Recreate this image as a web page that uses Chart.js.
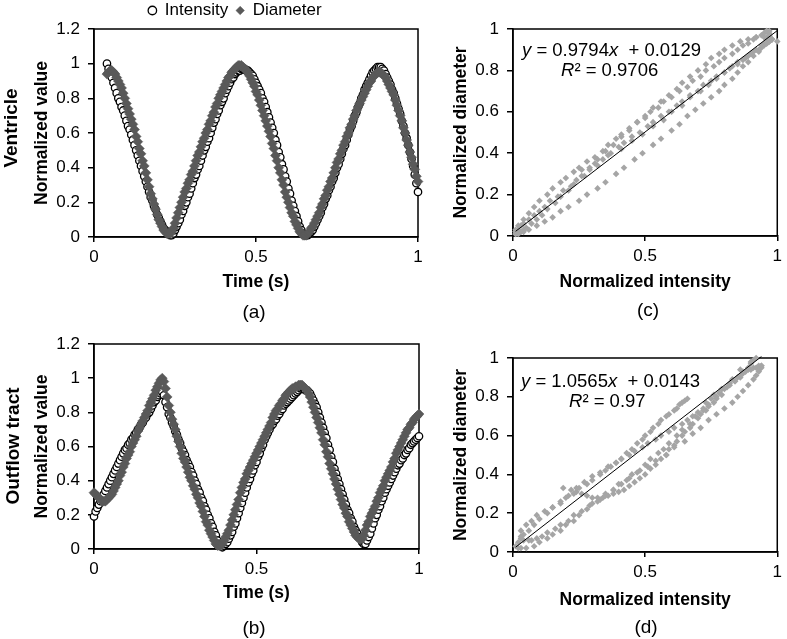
<!DOCTYPE html>
<html lang="en">
<head>
  <meta charset="UTF-8" />
  <title>Ventricle and outflow tract: intensity vs diameter</title>
  <script src="https://cdn.jsdelivr.net/npm/chart.js"></script>
  <style>
    body {
      margin: 0;
      background: #fff;
      font-family: 'Liberation Sans', Arial, Helvetica, sans-serif;
      color: #000;
    }

    #figure {
      position: relative;
      width: 787px;
      height: 639px;
      overflow: hidden;
    }

    .panel { position: absolute; }

    .txt {
      position: absolute;
      white-space: nowrap;
      transform: translate(-50%, -50%);
    }

    .row-name {
      font-size: 19px;
      font-weight: bold;
      transform: translate(-50%, -50%) rotate(-90deg);
    }

    .tag { font-size: 19px; }

    .eq {
      font-size: 18.5px;
      transform: translateY(-50%);
    }
  </style>
</head>
<body>
<div id="figure">
  <canvas id="chartA" class="panel" width="470" height="300" style="left:0;top:0"></canvas>
  <canvas id="chartB" class="panel" width="470" height="292" style="left:0;top:320px"></canvas>
  <canvas id="chartC" class="panel" width="367" height="300" style="left:420px;top:0"></canvas>
  <canvas id="chartD" class="panel" width="367" height="300" style="left:420px;top:320px"></canvas>

  <div class="txt row-name" style="left:11px;top:128px">Ventricle</div>
  <div class="txt row-name" style="left:13px;top:446px">Outflow tract</div>

  <div class="txt tag" style="left:254px;top:312px">(a)</div>
  <div class="txt tag" style="left:254px;top:628px">(b)</div>
  <div class="txt tag" style="left:648px;top:310px">(c)</div>
  <div class="txt tag" style="left:646px;top:627px">(d)</div>

  <div class="txt eq" id="eqC1" style="left:522px;top:50px"></div>
  <div class="txt eq" id="eqC2" style="left:561px;top:70px"></div>
  <div class="txt eq" id="eqD1" style="left:521px;top:381px"></div>
  <div class="txt eq" id="eqD2" style="left:569px;top:401px"></div>
</div>

<script>
  // ---- data ----
  // frames are evenly spaced in time; each row below covers 0.1 s
  const FRAME_DT = 0.005;
  const START_A = 0.04;   // ventricle series start at 0.04 s
  const START_B = 0.0;    // outflow tract series start at 0 s

  const intensityA = [
    1.00,0.97,0.95,0.92,0.89,0.86,0.83,0.80,0.78,0.75,0.73,0.70,0.67,0.64,0.62,0.59,0.56,0.53,0.50,0.47,
    0.44,0.41,0.38,0.35,0.32,0.29,0.26,0.23,0.21,0.18,0.16,0.13,0.11,0.09,0.07,0.05,0.04,0.03,0.02,0.01,
    0.01,0.02,0.04,0.06,0.08,0.10,0.13,0.15,0.18,0.20,0.23,0.25,0.28,0.31,0.34,0.36,0.39,0.41,0.44,0.47,
    0.50,0.52,0.55,0.57,0.60,0.63,0.66,0.68,0.71,0.73,0.76,0.78,0.80,0.83,0.85,0.87,0.89,0.91,0.92,0.94,
    0.95,0.96,0.96,0.97,0.97,0.97,0.96,0.96,0.95,0.94,0.93,0.91,0.89,0.87,0.85,0.83,0.80,0.78,0.75,0.72,
    0.69,0.66,0.63,0.60,0.56,0.53,0.49,0.46,0.42,0.39,0.35,0.32,0.28,0.25,0.21,0.18,0.15,0.12,0.09,0.06,
    0.04,0.02,0.01,0.01,0.01,0.02,0.03,0.04,0.06,0.08,0.10,0.12,0.14,0.17,0.19,0.22,0.24,0.27,0.29,0.32,
    0.34,0.37,0.40,0.42,0.45,0.48,0.51,0.53,0.56,0.59,0.62,0.64,0.67,0.70,0.72,0.75,0.77,0.80,0.82,0.85,
    0.87,0.89,0.91,0.93,0.95,0.96,0.97,0.98,0.98,0.98,0.97,0.96,0.94,0.92,0.90,0.88,0.85,0.83,0.80,0.77,
    0.74,0.71,0.67,0.64,0.60,0.57,0.53,0.49,0.45,0.41,0.36,0.31,0.26
  ];

  const diameterA = [
    0.94,0.95,0.96,0.96,0.95,0.94,0.92,0.90,0.88,0.86,0.83,0.80,0.77,0.74,0.71,0.68,0.65,0.62,0.58,0.55,
    0.51,0.48,0.44,0.41,0.37,0.33,0.29,0.25,0.22,0.19,0.16,0.13,0.10,0.08,0.06,0.04,0.03,0.02,0.02,0.02,
    0.03,0.05,0.08,0.11,0.14,0.17,0.20,0.23,0.26,0.28,0.31,0.33,0.36,0.38,0.41,0.44,0.47,0.49,0.52,0.55,
    0.57,0.60,0.62,0.65,0.67,0.70,0.72,0.75,0.77,0.80,0.82,0.84,0.86,0.88,0.90,0.92,0.93,0.95,0.96,0.97,
    0.98,0.99,0.99,0.99,0.98,0.97,0.96,0.95,0.93,0.91,0.89,0.87,0.84,0.82,0.79,0.76,0.73,0.70,0.67,0.64,
    0.61,0.58,0.54,0.51,0.47,0.44,0.40,0.37,0.33,0.30,0.26,0.23,0.20,0.17,0.14,0.12,0.09,0.07,0.05,0.03,
    0.02,0.01,0.01,0.01,0.02,0.03,0.05,0.06,0.08,0.10,0.12,0.14,0.17,0.19,0.22,0.24,0.27,0.29,0.32,0.34,
    0.37,0.40,0.43,0.45,0.48,0.50,0.53,0.55,0.58,0.60,0.63,0.65,0.68,0.70,0.73,0.75,0.77,0.79,0.81,0.83,
    0.85,0.87,0.89,0.90,0.92,0.93,0.94,0.95,0.95,0.95,0.94,0.93,0.92,0.90,0.88,0.86,0.84,0.82,0.79,0.76,
    0.73,0.70,0.67,0.63,0.60,0.56,0.53,0.49,0.46,0.42,0.39,0.35,0.32
  ];

  const intensityB = [
    0.19,0.22,0.24,0.26,0.28,0.30,0.32,0.34,0.36,0.38,0.40,0.42,0.44,0.46,0.48,0.50,0.52,0.54,0.56,0.58,
    0.59,0.61,0.62,0.64,0.65,0.67,0.68,0.70,0.71,0.73,0.74,0.76,0.77,0.79,0.80,0.82,0.84,0.86,0.87,0.89,
    0.90,0.91,0.92,0.90,0.86,0.83,0.79,0.77,0.74,0.72,0.69,0.67,0.64,0.62,0.59,0.57,0.55,0.52,0.50,0.48,
    0.45,0.43,0.40,0.38,0.35,0.33,0.30,0.28,0.25,0.23,0.20,0.18,0.15,0.13,0.10,0.08,0.05,0.03,0.02,0.01,
    0.02,0.03,0.04,0.06,0.08,0.10,0.13,0.15,0.18,0.21,0.24,0.27,0.30,0.33,0.36,0.39,0.41,0.44,0.46,0.49,
    0.51,0.54,0.56,0.59,0.61,0.64,0.66,0.68,0.70,0.72,0.73,0.75,0.76,0.78,0.79,0.81,0.82,0.84,0.85,0.86,
    0.87,0.88,0.89,0.90,0.91,0.92,0.93,0.94,0.94,0.94,0.93,0.93,0.92,0.91,0.89,0.87,0.85,0.83,0.80,0.77,
    0.74,0.71,0.68,0.65,0.61,0.58,0.54,0.51,0.47,0.44,0.41,0.38,0.35,0.32,0.29,0.26,0.23,0.21,0.18,0.16,
    0.13,0.11,0.09,0.07,0.06,0.04,0.03,0.03,0.05,0.07,0.09,0.12,0.15,0.18,0.20,0.23,0.25,0.28,0.30,0.33,
    0.35,0.37,0.39,0.41,0.43,0.45,0.47,0.49,0.50,0.52,0.53,0.55,0.56,0.58,0.59,0.61,0.62,0.63,0.64,0.65,
    0.66
  ];

  const diameterB = [
    0.33,0.32,0.31,0.30,0.29,0.28,0.28,0.28,0.29,0.30,0.31,0.32,0.34,0.36,0.38,0.40,0.43,0.45,0.48,0.50,
    0.53,0.55,0.57,0.60,0.62,0.64,0.66,0.69,0.71,0.73,0.75,0.77,0.79,0.81,0.84,0.86,0.88,0.90,0.93,0.95,
    0.97,0.99,1.00,0.98,0.94,0.89,0.84,0.80,0.76,0.73,0.70,0.66,0.63,0.60,0.56,0.53,0.51,0.48,0.45,0.42,
    0.40,0.37,0.35,0.32,0.30,0.27,0.25,0.22,0.19,0.16,0.14,0.11,0.09,0.07,0.05,0.03,0.02,0.02,0.02,0.03,
    0.05,0.07,0.09,0.11,0.14,0.17,0.20,0.23,0.26,0.29,0.33,0.36,0.39,0.41,0.44,0.46,0.48,0.50,0.52,0.54,
    0.56,0.58,0.60,0.62,0.64,0.66,0.68,0.70,0.72,0.74,0.77,0.79,0.81,0.82,0.84,0.85,0.87,0.88,0.90,0.91,
    0.92,0.93,0.94,0.94,0.95,0.95,0.96,0.96,0.96,0.95,0.94,0.93,0.91,0.89,0.86,0.83,0.80,0.77,0.74,0.71,
    0.68,0.64,0.61,0.57,0.54,0.50,0.47,0.44,0.41,0.38,0.35,0.32,0.29,0.26,0.24,0.21,0.19,0.16,0.14,0.12,
    0.10,0.08,0.07,0.06,0.06,0.06,0.08,0.11,0.14,0.16,0.19,0.21,0.23,0.25,0.28,0.30,0.33,0.35,0.37,0.40,
    0.42,0.44,0.46,0.48,0.51,0.53,0.56,0.58,0.60,0.62,0.64,0.66,0.68,0.70,0.71,0.73,0.74,0.76,0.77,0.78,
    0.79
  ];

  // linear fits printed on panels (c) and (d)
  const fitC = { slope: 0.9794, intercept: 0.0129, r2: '0.9706' };
  const fitD = { slope: 1.0565, intercept: 0.0143, r2: '0.97' };

  // tick labels
  const timeTicks = [0, 0.5, 1];
  const valueTicks = [0, 0.2, 0.4, 0.6, 0.8, 1, 1.2];
  const unitTicks = [0, 0.2, 0.4, 0.6, 0.8, 1];
  const normTicks = [0, 0.5, 1];

  // ---- helpers ----
  Chart.defaults.font.family = "'Liberation Sans', Arial, Helvetica, sans-serif";
  Chart.defaults.color = '#000';

  const INK = '#000';
  const DIAM_DARK = '#595959';
  const DIAM_LIGHT = '#a5a5a5';
  const tickFont = { size: 17 };
  const titleFont = { size: 17.5, weight: 'bold' };

  const frameTimes = (start, n) => Array.from({ length: n }, (_, i) => +(start + i * FRAME_DT).toFixed(3));
  const pairs = (xs, ys) => xs.map((x, i) => ({ x, y: ys[i] }));

  function trendPoints(xs, fit) {
    const lo = Math.min(...xs), hi = Math.max(...xs);
    return [lo, hi].map(x => ({ x, y: fit.slope * x + fit.intercept }));
  }

  function fixedTicks(values) {
    return scale => { scale.ticks = values.map(v => ({ value: v })); };
  }

  function xAxis(title, ticks, height, titlePad) {
    return {
      type: 'linear', min: 0, max: 1,
      afterBuildTicks: fixedTicks(ticks),
      afterFit: s => { s.height = height; },
      ticks: { font: tickFont, color: INK, padding: 5, maxRotation: 0, autoSkip: false, callback: v => String(v) },
      grid: { drawOnChartArea: false, drawTicks: true, tickLength: 5, color: INK, lineWidth: 1.5 },
      border: { display: true, color: INK, width: 1.5 },
      title: { display: true, text: title, font: titleFont, color: INK, padding: { top: 0, bottom: titlePad } }
    };
  }

  function yAxis(title, ticks, max, width, titlePad) {
    return {
      type: 'linear', min: 0, max: max,
      afterBuildTicks: fixedTicks(ticks),
      afterFit: s => { s.width = width; },
      ticks: { font: tickFont, color: INK, padding: 8, autoSkip: false, callback: v => String(v) },
      grid: { drawOnChartArea: false, drawTicks: true, tickLength: 6, color: INK, lineWidth: 1.5 },
      border: { display: true, color: INK, width: 1.5 },
      title: { display: true, text: title, font: titleFont, color: INK, padding: { top: titlePad, bottom: 0 } }
    };
  }

  // box round the plot area (top and right sides too)
  const frame = {
    id: 'frame',
    beforeDatasetsDraw(chart) {
      const { ctx, chartArea: a } = chart;
      ctx.save();
      ctx.strokeStyle = INK;
      ctx.lineWidth = 1.5;
      ctx.strokeRect(a.left, a.top, a.right - a.left, a.bottom - a.top);
      ctx.restore();
    }
  };

  function timeChart(id, times, intensity, diameter, box) {
    const scales = {
      x: xAxis('Time (s)', timeTicks, box.xHeight, box.xTitlePad),
      y: yAxis('Normalized value', valueTicks, 1.2, box.yWidth, box.yTitlePad)
    };
    if (box.rightGap) {
      // empty right-hand strip so the legend centres over the whole panel
      scales.gap = {
        type: 'linear', axis: 'y', position: 'right', display: true,
        afterFit: s => { s.width = box.rightGap; },
        ticks: { display: false }, grid: { display: false }, border: { display: false }
      };
    }
    return new Chart(document.getElementById(id), {
      type: 'scatter',
      data: {
        datasets: [
          {
            label: 'Intensity',
            data: pairs(times, intensity),
            pointStyle: 'circle', pointRadius: 3.7, pointBorderWidth: 1.3,
            pointBackgroundColor: '#fff', pointBorderColor: INK,
            backgroundColor: '#fff', borderColor: INK, order: 1, clip: false
          },
          {
            // diameter markers sit on top of the intensity circles
            label: 'Diameter',
            data: pairs(times, diameter),
            pointStyle: 'rectRot', pointRadius: 5, pointBorderWidth: 0.5,
            pointBackgroundColor: DIAM_DARK, pointBorderColor: DIAM_DARK,
            backgroundColor: DIAM_DARK, borderColor: DIAM_DARK, order: 0, clip: false
          }
        ]
      },
      options: {
        responsive: false,
        animation: false,
        events: [],
        layout: { padding: box.padding },
        plugins: {
          tooltip: { enabled: false },
          legend: box.legend ? {
            display: true, position: 'top',
            labels: {
              usePointStyle: true, boxWidth: 8, boxHeight: 6, padding: 8,
              font: { size: 17 }, color: INK,
              sort: (a, b) => a.datasetIndex - b.datasetIndex
            }
          } : { display: false }
        },
        scales
      },
      plugins: [frame]
    });
  }

  function fitChart(id, intensity, diameter, fit, box) {
    return new Chart(document.getElementById(id), {
      type: 'scatter',
      data: {
        datasets: [
          {
            label: 'Linear fit',
            data: trendPoints(intensity, fit),
            showLine: true, pointRadius: 0, borderColor: INK, borderWidth: 1, order: 0, clip: false
          },
          {
            label: 'Diameter vs intensity',
            data: pairs(intensity, diameter),
            pointStyle: 'rectRot', pointRadius: 3.3, pointBorderWidth: 0,
            pointBackgroundColor: DIAM_LIGHT, pointBorderColor: DIAM_LIGHT,
            backgroundColor: DIAM_LIGHT, borderColor: DIAM_LIGHT, order: 1, clip: false
          }
        ]
      },
      options: {
        responsive: false,
        animation: false,
        events: [],
        layout: { padding: box.padding },
        plugins: { tooltip: { enabled: false }, legend: { display: false } },
        scales: {
          x: xAxis('Normalized intensity', normTicks, box.xHeight, box.xTitlePad),
          y: yAxis('Normalized diameter', unitTicks, 1, box.yWidth, box.yTitlePad)
        }
      },
      plugins: [frame]
    });
  }

  // ---- build ----
  const timesA = frameTimes(START_A, intensityA.length);
  const timesB = frameTimes(START_B, intensityB.length);

  timeChart('chartA', timesA, intensityA, diameterA, {
    legend: true, rightGap: 52,
    padding: { top: -6, right: 0, bottom: 0, left: 0 },
    xHeight: 63, xTitlePad: 7, yWidth: 94, yTitlePad: 32
  });

  timeChart('chartB', timesB, intensityB, diameterB, {
    legend: false,
    padding: { top: 24, right: 51, bottom: 0, left: 0 },
    xHeight: 63, xTitlePad: 8, yWidth: 94, yTitlePad: 32
  });

  fitChart('chartC', intensityA, diameterA, fitC, {
    padding: { top: 29, right: 6, bottom: 0, left: 0 },
    xHeight: 64, xTitlePad: 7, yWidth: 93, yTitlePad: 31
  });

  fitChart('chartD', intensityB, diameterB, fitD, {
    padding: { top: 38, right: 5, bottom: 0, left: 0 },
    xHeight: 68, xTitlePad: 9, yWidth: 93, yTitlePad: 31
  });

  function eqHtml(fit) {
    return '<i>y</i> = ' + fit.slope.toFixed(4) + '<i>x</i>&nbsp; + ' + fit.intercept.toFixed(4);
  }
  document.getElementById('eqC1').innerHTML = eqHtml(fitC);
  document.getElementById('eqC2').innerHTML = '<i>R</i>² = ' + fitC.r2;
  document.getElementById('eqD1').innerHTML = eqHtml(fitD);
  document.getElementById('eqD2').innerHTML = '<i>R</i>² = ' + fitD.r2;
</script>
</body>
</html>
